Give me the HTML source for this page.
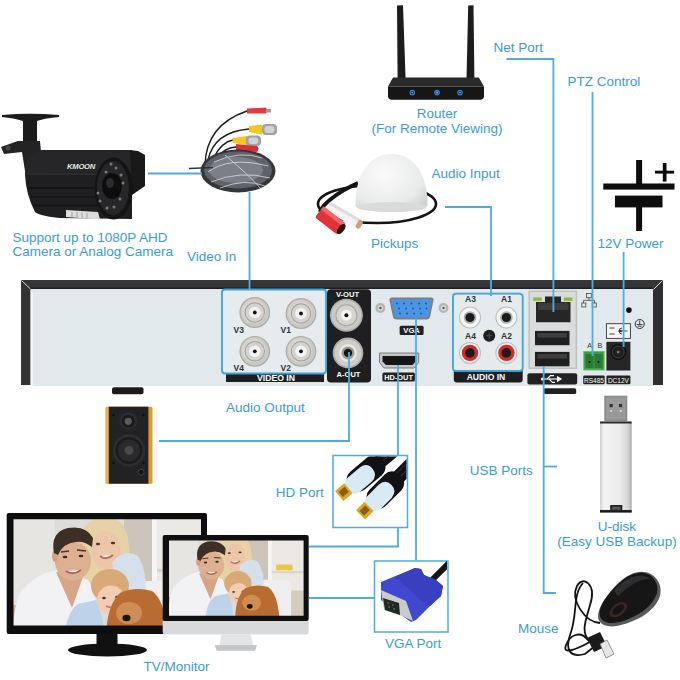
<!DOCTYPE html>
<html><head><meta charset="utf-8">
<style>
html,body{margin:0;padding:0;background:#fff;width:680px;height:680px;overflow:hidden}
svg{display:block}
.t{font-family:"Liberation Sans",sans-serif;fill:#3a9dd2;font-size:13.5px}
.ln{stroke:#4eaddc;stroke-width:1.8;fill:none}
.lb{font-family:"Liberation Sans",sans-serif;fill:#fff;font-weight:bold;font-size:7px}
.sl{font-family:"Liberation Sans",sans-serif;fill:#222;font-size:8px}
</style></head>
<body>
<svg width="680" height="680" viewBox="0 0 680 680">
<defs>

  <filter id="soft" x="-5%" y="-5%" width="110%" height="110%"><feGaussianBlur stdDeviation="0.7"/></filter>
  <clipPath id="clipBig"><rect x="13.5" y="519.2" width="187.5" height="106.4"/></clipPath>
  <clipPath id="clipSmall"><rect x="169" y="540.5" width="134.6" height="75.3"/></clipPath>
  <g id="photo">
    <rect x="0" y="505" width="225" height="140" fill="#dedcd8"/>
    <rect x="0" y="505" width="55" height="140" fill="#e6e5e2"/>
    <rect x="124" y="505" width="28" height="80" fill="#cbc5bc"/>
    <rect x="152" y="505" width="73" height="95" fill="#ece9e5"/>
    <rect x="152" y="505" width="5" height="95" fill="#f7f6f4"/>
    <rect x="157" y="569" width="68" height="3" fill="#d8d3cc"/>
    <rect x="163" y="560" width="23" height="8" rx="2" fill="#e8c840"/>
    <rect x="181" y="596" width="44" height="50" fill="#d6ccbc"/>
    <path d="M136 640 V592 Q136 581 147 581 H175 Q184 581 184 592 V640 Z" fill="#efefef"/>
    <path d="M0 605 H22 V640 H0 Z" fill="#d4b898"/>
    <path d="M80 605 Q74 560 80 535 Q88 517 106 517 Q124 518 128 538 Q132 562 124 586 L96 592 Z" fill="#e6d2a4"/>
    <ellipse cx="106" cy="550" rx="14.5" ry="19" fill="#edc6aa"/>
    <path d="M112 562 Q126 548 138 556 Q148 572 145 598 L118 600 Z" fill="#d5e0ec"/>
    <path d="M12 640 Q14 600 22 590 Q36 574 56 570 L66 572 L88 580 Q98 595 102 640 Z" fill="#f2f2f4"/>
    <path d="M56 572 L84 574 L72 608 Z" fill="#d8a488"/>
    <ellipse cx="73" cy="561" rx="18" ry="19.5" fill="#deb092"/>
    <ellipse cx="55" cy="556" rx="3" ry="6" fill="#d4a080"/>
    <path d="M54 553 Q50 532 68 528 Q86 525 93 538 L92 547 Q84 541 76 542 Q63 543 58 555 Z" fill="#3d2e26"/>
    <g fill="#3a2a22">
      <ellipse cx="65" cy="557" rx="2.4" ry="1.3"/><ellipse cx="81" cy="556" rx="2.4" ry="1.3"/>
    </g>
    <path d="M61 552 L69 551 M77 550 L86 551" stroke="#4a3428" stroke-width="1.4"/>
    <path d="M66 571 Q73 576 81 570" stroke="#a8644e" stroke-width="2" fill="#fff"/>
    <path d="M64 640 Q66 612 78 604 L96 600 Q104 615 104 640 Z" fill="#bcd3ea"/>
    <ellipse cx="110" cy="586" rx="19" ry="17" fill="#d8aa78"/>
    <ellipse cx="111" cy="600" rx="14" ry="14.5" fill="#f2cdb2"/>
    <g fill="#4a3428">
      <ellipse cx="98" cy="544" rx="2.2" ry="1.2"/><ellipse cx="113" cy="543" rx="2.2" ry="1.2"/>
      <ellipse cx="104" cy="598" rx="1.8" ry="1.2"/><ellipse cx="117" cy="597" rx="1.8" ry="1.2"/>
    </g>
    <path d="M100 556 Q106 561 113 555" stroke="#b86a5a" stroke-width="2" fill="#fff"/>
    <path d="M106 606 Q111 609 116 605" stroke="#c07a6a" stroke-width="1.5" fill="none"/>
    <path d="M106 640 Q106 606 120 593 Q135 586 152 591 Q166 601 168 640 Z" fill="#b96c30"/>
    <ellipse cx="129" cy="613" rx="13" ry="11" fill="#cf8d54"/>
    <ellipse cx="126.5" cy="618" rx="4" ry="3.2" fill="#1e130e"/>
  </g>
  <g id="bnc">
    <circle cx="0" cy="0" r="15.4" fill="#aeaca8"/>
    <circle cx="0" cy="0" r="14.2" fill="#cac8c4"/>
    <circle cx="-1" cy="-1" r="12" fill="#d6d4d0"/>
    <circle cx="0" cy="0" r="10.2" fill="#a3a19d"/>
    <circle cx="0" cy="0" r="9.2" fill="#d3d2cf"/>
    <circle cx="0" cy="0" r="5.8" fill="#f2f2f2"/>
    <circle cx="0" cy="0" r="1.9" fill="#111"/>
  </g>
  <g id="rcaw">
    <circle cx="0" cy="0" r="11" fill="#bdbdbd"/>
    <circle cx="0" cy="0" r="10" fill="#f6f6f6"/>
    <circle cx="0" cy="0" r="6.3" fill="#b0aeac"/>
    <circle cx="0" cy="0" r="4.6" fill="#1c1c1c"/>
  </g>
  <g id="rcar">
    <circle cx="0" cy="0" r="11" fill="#bdbdbd"/>
    <circle cx="0" cy="0" r="10" fill="#f2f2f2"/>
    <circle cx="0" cy="0" r="8.2" fill="#d42a2e"/>
    <circle cx="0" cy="0" r="4.8" fill="#1c1c1c"/>
  </g>
</defs>
<rect width="680" height="680" fill="#fff"/>


<!-- ===== DVR ===== -->
<g id="dvr">
  <path d="M21 280 H663 V385 H653 L653 290 L30 290 V385 H21 Z" fill="#333335"/>
  <rect x="30.5" y="289" width="623" height="97" fill="#e2e9ec"/>
  <path d="M21 280 L30.5 289 V385 H21 Z" fill="#333"/>
  <path d="M663 280 L653 289 V385 H663 Z" fill="#2f2f31"/>
  <path d="M21 280 H663 L653 289 H30.5 Z" fill="#363638"/><path d="M30.5 287.5 H653 V289 H30.5 Z" fill="#1e1e1f"/>
  <path d="M30.5 289 L33 294 V385 H30.5 Z" fill="#fff" opacity=".6"/>
  <path d="M21.5 280.5 L30.5 289" stroke="#ddd" stroke-width="1"/>
  <path d="M662.5 280.5 L653.5 289.5" stroke="#ddd" stroke-width="1"/>

  <!-- video in -->
  <rect x="226" y="372" width="98" height="10" fill="#1e1e20"/>
  <text x="276" y="380.8" text-anchor="middle" class="lb" style="font-size:8.7px">VIDEO IN</text>
  <rect x="222" y="289.5" width="104" height="84" rx="3" fill="#e6ebee" stroke="#3aa3da" stroke-width="1.8"/>
  <use href="#bnc" x="254.8" y="312.5"/>
  <use href="#bnc" x="301" y="313.5"/>
  <use href="#bnc" x="254.8" y="351.3"/>
  <use href="#bnc" x="301" y="351.3"/>
  <g class="sl">
    <text x="233.5" y="332.7" style="font-weight:bold;font-size:8.5px;fill:#333">V3</text><text x="280.5" y="332.7" style="font-weight:bold;font-size:8.5px;fill:#333">V1</text>
    <text x="233.5" y="370.8" style="font-weight:bold;font-size:8.5px;fill:#333">V4</text><text x="280.5" y="370.8" style="font-weight:bold;font-size:8.5px;fill:#333">V2</text>
  </g>
  <!-- erase the original bnc at 0,0 -->

  <!-- V-OUT / A-OUT -->
  <rect x="327" y="289.2" width="44" height="93.3" rx="4" fill="#1f1f21"/>
  <text x="347.5" y="296.8" text-anchor="middle" class="lb" style="font-size:7.6px">V-OUT</text>
  <text x="348.5" y="377" text-anchor="middle" class="lb" style="font-size:7.6px">A-OUT</text>
  <circle cx="346.4" cy="315.2" r="16.5" fill="#aeaca8"/>
  <circle cx="346.4" cy="315.2" r="15" fill="#cac8c4"/>
  <circle cx="346.4" cy="315.2" r="11" fill="#a9a7a3"/>
  <circle cx="346.4" cy="315.2" r="10" fill="#d6d4d0"/>
  <circle cx="346.4" cy="315.2" r="5.5" fill="#f2f2f2"/>
  <circle cx="346.4" cy="315.2" r="2" fill="#111"/>
  <circle cx="348" cy="352.9" r="15.3" fill="#b0aeaa"/>
  <circle cx="348" cy="352.9" r="13.5" fill="#cfcdc9"/>
  <circle cx="348" cy="352.9" r="9" fill="#e8e7e4"/>
  <circle cx="348" cy="352.9" r="6.5" fill="#9b9995"/>
  <circle cx="348" cy="352.9" r="4.2" fill="#161616"/>

  <!-- VGA -->
  <circle cx="380.4" cy="308" r="5" fill="#b5b5b3"/><circle cx="380.4" cy="308" r="2.6" fill="#e0e0de"/><circle cx="380.4" cy="308" r="1.2" fill="#555"/>
  <circle cx="443.5" cy="308" r="5" fill="#b5b5b3"/><circle cx="443.5" cy="308" r="2.6" fill="#e0e0de"/><circle cx="443.5" cy="308" r="1.2" fill="#555"/>
  <path d="M392 297.4 H431 Q434 297.4 433.5 300.5 L430 317 Q429.5 319.4 427 319.4 H396 Q393.5 319.4 393 317 L389.5 300.5 Q389 297.4 392 297.4 Z" fill="#7d7f80"/>
  <path d="M393.5 299.3 H429.5 Q432 299.3 431.5 301.5 L428.3 315.8 Q428 317.6 426 317.6 H397 Q395 317.6 394.7 315.8 L391.5 301.5 Q391 299.3 393.5 299.3 Z" fill="#4a96e4"/>
  <g fill="#1f4f90">
    <circle cx="397" cy="303.5" r="0.9"/><circle cx="404" cy="303.5" r="0.9"/><circle cx="411.5" cy="303.5" r="0.9"/><circle cx="419" cy="303.5" r="0.9"/><circle cx="426" cy="303.5" r="0.9"/>
    <circle cx="399" cy="308.5" r="0.9"/><circle cx="406" cy="308.5" r="0.9"/><circle cx="413" cy="308.5" r="0.9"/><circle cx="420" cy="308.5" r="0.9"/><circle cx="426.5" cy="308.5" r="0.9"/>
    <circle cx="400" cy="313.5" r="0.9"/><circle cx="407" cy="313.5" r="0.9"/><circle cx="414" cy="313.5" r="0.9"/><circle cx="421" cy="313.5" r="0.9"/>
  </g>
  <rect x="399.6" y="325.7" width="24" height="9.3" rx="1.5" fill="#222"/>
  <text x="411.6" y="333.3" text-anchor="middle" class="lb" style="font-size:7.6px">VGA</text>

  <!-- HDMI -->
  <path d="M379.5 353 H418.7 V362.5 L414 368 H384 L379.5 362.5 Z" fill="#c5c7c9" stroke="#666" stroke-width=".8"/>
  <path d="M382.5 356 H415.5 V361.5 L412.5 365 H386 L382.5 361.5 Z" fill="#161616"/>
  <rect x="382.4" y="372.6" width="32.5" height="9" rx="1.5" fill="#222"/>
  <text x="398.6" y="380.2" text-anchor="middle" class="lb" style="font-size:7.4px">HD-OUT</text>

  <!-- AUDIO IN -->
  <path d="M453.8 370 H522.7 V379.5 Q522.7 382.5 519.7 382.5 H456.8 Q453.8 382.5 453.8 379.5 Z" fill="#1e1e20"/>
  <text x="486" y="380.3" text-anchor="middle" class="lb" style="font-size:8.6px">AUDIO IN</text>
  <rect x="453" y="293.6" width="69.7" height="77.4" rx="3" fill="#e5eaed" stroke="#3aa3da" stroke-width="1.8"/>
  <use href="#rcaw" x="470" y="317.5"/>
  <use href="#rcaw" x="506.4" y="317.5"/>
  <use href="#rcar" x="470" y="352.9"/>
  <use href="#rcar" x="506.4" y="352.9"/>
  <circle cx="489.2" cy="335.7" r="6" fill="#1e1e1e"/>
  <path d="M486 335.7 H492.4 M489.2 332.5 V338.9" stroke="#555" stroke-width=".8"/>
  <g class="sl" style="font-weight:bold;font-size:8.5px;fill:#333">
    <text x="465" y="302.2">A3</text><text x="501" y="302.2">A1</text>
    <text x="465" y="339.1">A4</text><text x="501" y="339.1">A2</text>
  </g>

  <!-- RJ45 + USB -->
  <rect x="528.4" y="290.4" width="48.8" height="78.7" fill="#bfc1c3"/>
  <rect x="530" y="292" width="45.6" height="75.5" fill="#d9dbdc"/>
  <rect x="533.2" y="297.4" width="8.6" height="3.5" fill="#8fb844"/>
  <rect x="563.8" y="297.4" width="8.6" height="3.5" fill="#8fb844"/>
  <path d="M545 296.5 H561 V302 H570.5 V322.3 H536 V302 H545 Z" fill="#262626"/>
  <rect x="538" y="303" width="30.5" height="7" fill="#3c3c3c"/>
  <rect x="535" y="330.9" width="34.5" height="14.3" fill="#1f1f1f"/>
  <rect x="537.5" y="333" width="29.5" height="4.5" fill="#3e3e3e"/>
  <rect x="535" y="351.9" width="34.5" height="14.4" fill="#1f1f1f"/>
  <rect x="537.5" y="354" width="29.5" height="4.5" fill="#3e3e3e"/>
  <rect x="527.4" y="373.3" width="49.8" height="11.1" rx="2" fill="#222"/>
  <g stroke="#fff" stroke-width="1.1" fill="none">
    <path d="M542 379 H561"/>
    <path d="M561 379 L557.5 376.8 V381.2 Z" fill="#fff"/>
    <path d="M547 379 L550.5 375.6 H554"/>
    <path d="M549 379 L552.5 382.4 H555"/>
  </g>
  <circle cx="542.5" cy="379" r="1.6" fill="#fff"/>
  <rect x="543.7" y="388.2" width="32.5" height="5.8" rx="1.5" fill="#222"/>

  <!-- network icon -->
  <g stroke="#555" stroke-width=".9" fill="none">
    <rect x="586.5" y="293.5" width="5" height="4.2"/>
    <path d="M589 297.7 V300.3 M583.5 300.3 H594.5 M583.5 300.3 V303 M594.5 300.3 V303"/>
    <rect x="581.8" y="303" width="4" height="4"/><rect x="592.3" y="303" width="4" height="4"/>
  </g>
  <circle cx="628.9" cy="310.1" r="2.8" fill="#111"/>
  <circle cx="639.7" cy="324" r="4.5" fill="none" stroke="#333" stroke-width="1"/>
  <path d="M639.7 320.5 V324.5 M636.8 324.5 H642.6 M637.8 326.2 H641.6" stroke="#333" stroke-width=".9"/>
  <rect x="606.4" y="323.7" width="24" height="14.7" fill="#f4f5f6" stroke="#333" stroke-width=".9"/>
  <path d="M609.5 328 H614.5 M609.5 334 H614.5 M618.5 331 H627.5 M622 328 A3 3 0 0 0 622 334" stroke="#333" stroke-width=".9" fill="none"/>
  <circle cx="620.5" cy="331" r="1.3" fill="#333"/>

  <!-- RS485 -->
  <text x="587.3" y="347.7" class="sl" style="font-size:7.2px;fill:#333">A</text>
  <text x="597.5" y="347.7" class="sl" style="font-size:7.2px;fill:#333">B</text>
  <rect x="583.2" y="351" width="21.5" height="19.5" fill="#6dbb6a"/>
  <rect x="584.2" y="352" width="19.5" height="17.5" fill="#3d9c45"/>
  <rect x="585.5" y="354" width="8" height="14" fill="#2b7a33"/>
  <rect x="594.5" y="354" width="8" height="14" fill="#2b7a33"/>
  <circle cx="589.5" cy="362" r="1" fill="#111"/><circle cx="598.5" cy="362" r="1" fill="#111"/>
  <rect x="583.2" y="375.6" width="21.5" height="8.6" rx="1.2" fill="#222"/>
  <text x="594" y="382.6" text-anchor="middle" class="lb" style="font-size:6.5px;font-weight:normal">RS485</text>
  <!-- DC -->
  <rect x="606.4" y="341.8" width="24" height="28.7" fill="#262626"/>
  <circle cx="618.2" cy="352" r="8" fill="#111"/>
  <circle cx="618.2" cy="352" r="6" fill="#1e1e1e" stroke="#555" stroke-width=".7"/>
  <circle cx="618.2" cy="352" r="1.5" fill="#777"/>
  <rect x="606.4" y="375.6" width="24" height="8.6" rx="1.2" fill="#222"/>
  <text x="618.4" y="382.6" text-anchor="middle" class="lb" style="font-size:6.5px;font-weight:normal">DC12V</text>
</g>


<!-- ===== Router ===== -->
<g id="router">
  <path d="M397 5.5 L403 5.3 L405.6 79 L397.6 79 Z" fill="#1c1c1c"/>
  <path d="M468.2 5.5 L473.5 5.3 L474.4 79 L466.5 79 Z" fill="#1c1c1c"/>
  <path d="M393 77.6 H478.8 L484 86.5 H388 Z" fill="#2a2a2c"/>
  <path d="M388 86.5 H484 V96 Q484 99.7 480 99.7 H392 Q388 99.7 388 96 Z" fill="#161617"/>
  <g fill="none" stroke="#2f7fe0" stroke-width="1.3">
    <circle cx="412.3" cy="92.6" r="2.2"/><circle cx="437" cy="92.6" r="2.2"/><circle cx="460" cy="92.6" r="2.2"/>
  </g>
  <g fill="#6ab0ff" opacity=".8">
    <circle cx="412.3" cy="92.6" r="1"/><circle cx="437" cy="92.6" r="1.3"/><circle cx="460" cy="92.6" r="1"/>
  </g>
</g>

<!-- ===== 12V symbol ===== -->
<g fill="#0d0d0d">
  <rect x="636.1" y="160" width="6" height="25"/>
  <rect x="603.3" y="183.5" width="71.2" height="6.1"/>
  <rect x="615" y="195.6" width="47.5" height="11.8"/>
  <rect x="636.1" y="207" width="6" height="24"/>
  <rect x="655" y="170.7" width="19.1" height="2.9"/>
  <rect x="662.8" y="163" width="3.7" height="18.6"/>
</g>

<!-- ===== Camera ===== -->
<g id="camera">
  <path d="M2 115 Q30 112.5 59 115 L59 117 Q45 118 37 121 H23 Q14 118 2 117 Z" fill="#1c1c1c"/>
  <rect x="23" y="119" width="14" height="24" fill="#1b1b1b"/>
  <path d="M18 141 H40 L41 152 L30 172 L25 171 L22 152 L4 154 L1 147 L15 142 Z" fill="#232323"/>
  <circle cx="8" cy="148" r="2.5" fill="#444"/>
  <path d="M40 150 L132 150 L132 219 L60 218 Q40 216 35 212 Q26 195 25 175 Q25 160 28 156 Z" fill="#1f1f21"/>
  <path d="M40 150 L132 150 L132 172 L26 173 Q25 160 28 156 Z" fill="#262628"/>
  <path d="M27 174 H120" stroke="#3a3a3c" stroke-width="1.2"/>
  <path d="M28 188 H100 M30 197 H100 M33 205.5 H100" stroke="#121213" stroke-width="1.3"/>
  <path d="M130 150 L138 151 L145 155 V186 L132 195 Z" fill="#19191a"/>
  <ellipse cx="113.6" cy="188.5" rx="19" ry="31" fill="#141415"/>
  <ellipse cx="113" cy="188" rx="16" ry="27" fill="#262628"/>
  <ellipse cx="112" cy="186" rx="10" ry="13" fill="#0d0d0e"/>
  <ellipse cx="110" cy="183" rx="4" ry="5" fill="#2c2c2e"/>
  <g fill="#7a7a7a">
    <circle cx="111" cy="164" r="1.5"/><circle cx="116" cy="168" r="1.5"/><circle cx="121" cy="175" r="1.5"/><circle cx="123" cy="183" r="1.5"/><circle cx="120" cy="199" r="1.5"/><circle cx="114" cy="207" r="1.5"/><circle cx="107" cy="208" r="1.5"/><circle cx="100" cy="201" r="1.5"/><circle cx="98" cy="193" r="1.5"/><circle cx="106" cy="172" r="1.5"/>
  </g>
  <path d="M66 210 L98 212 L100 219.5 L66 217 Z" fill="#dcdcdc"/>
  <path d="M72 212 V217 M77 212.3 V217.5 M82 212.6 V218 M87 213 V218.5" stroke="#777" stroke-width=".6"/>
  <text x="67" y="168.5" style="font-family:'Liberation Sans',sans-serif;font-size:7.6px;font-style:italic;font-weight:bold;letter-spacing:-.2px" fill="#e8e8e8">KMOON</text>
</g>

<!-- ===== Cable coil ===== -->
<g id="cable">
  <path d="M205 165 Q206 125 247 111" stroke="#1a1a1a" stroke-width="1.4" fill="none"/>
  <path d="M208 160 Q214 132 249 129" stroke="#1a1a1a" stroke-width="1.4" fill="none"/>
  <path d="M214 157 Q222 142 233 140" stroke="#1a1a1a" stroke-width="1.4" fill="none"/>
  <path d="M216 158 Q226 147 236 147" stroke="#1a1a1a" stroke-width="1.4" fill="none"/>
  <path d="M247 108.5 L266 107.5 Q268 110.5 266 113.5 L247 113.5 Z" fill="#e23a3f"/>
  <rect x="266" y="109" width="5" height="3.5" fill="#9a9a9a"/>
  <path d="M249 126 L262 124.4 V134.7 L249 132 Z" fill="#f0c820"/>
  <rect x="262" y="124" width="15" height="11" rx="4" fill="#9ea2a5"/>
  <rect x="264.5" y="126" width="10" height="7" rx="3" fill="#d0d3d5"/>
  <path d="M232.6 138 L247 136 V145 L232.6 143 Z" fill="#f0c820"/>
  <rect x="246" y="135.5" width="15" height="10.5" rx="4" fill="#9ea2a5"/>
  <rect x="248.5" y="137.5" width="10" height="6.5" rx="3" fill="#d0d3d5"/>
  <path d="M236 144 L257 146 Q260 148.5 257 152 L236 150 Z" fill="#d92f36"/>
  <ellipse cx="238" cy="171" rx="37.5" ry="21.5" fill="#34363a"/>
  <ellipse cx="238" cy="170" rx="34" ry="18.5" fill="#5f6268"/>
  <ellipse cx="236" cy="170" rx="27" ry="13" fill="#7c7f85"/>
  <g stroke="#e2e4e6" stroke-width="1" fill="none" opacity=".75">
    <path d="M208 172 Q230 156 268 166"/>
    <path d="M211 182 Q240 170 270 178"/>
    <path d="M214 162 Q240 150 262 158"/>
    <path d="M220 188 Q245 178 265 186"/>
    <path d="M225 155 Q250 176 262 190"/>
  </g>
  <path d="M189 168.5 L213 167.5" stroke="#333" stroke-width="1.5"/>
</g>

<!-- ===== Microphone ===== -->
<defs><radialGradient id="domeg" cx="0.4" cy="0.35" r="0.75"><stop offset="0" stop-color="#fbfbfb"/><stop offset=".7" stop-color="#e9eaea"/><stop offset="1" stop-color="#cfd0d0"/></radialGradient></defs>
<g id="mic">
  <ellipse cx="377" cy="204" rx="59" ry="19" fill="none" stroke="#141414" stroke-width="2.6"/>
  <path d="M358 183 Q342 190 331 199 Q322 206 320 212" stroke="#141414" stroke-width="4" fill="none"/>
  <path d="M355.5 206 C355 176, 368 154, 391.5 154 C415 154, 428 176, 427.5 206 C418 214, 365 214, 355.5 206 Z" fill="url(#domeg)"/>
  <ellipse cx="391.5" cy="207" rx="35" ry="5" fill="#d9dada"/>
  <g transform="translate(345 216) rotate(30)">
    <rect x="-20" y="-5" width="36" height="10" rx="2" fill="#f2f2f4"/>
    <rect x="-20" y="-5" width="36" height="3" fill="#dcdce0"/>
    <rect x="14" y="-4.5" width="5" height="9" rx="2" fill="#c8a27a"/>
  </g>
  <g transform="translate(331 221) rotate(38)">
    <rect x="-15" y="-7" width="28" height="14" rx="2" fill="#e1343a"/>
    <rect x="-15" y="-7" width="28" height="4" fill="#f0686c"/>
    <ellipse cx="13" cy="0" rx="3" ry="6" fill="#2a1515"/>
  </g>
</g>

<!-- ===== Speaker ===== -->
<g id="speaker">
  <rect x="112" y="387.3" width="31.5" height="7" rx="2" fill="#1c1c1c"/>
  <rect x="105.5" y="406.7" width="47" height="77" rx="1.5" fill="#e09a26"/>
  <rect x="106.5" y="407" width="2" height="76" fill="#f0b850"/>
  <rect x="108.8" y="406.7" width="39.6" height="77" fill="#222224"/>
  <circle cx="128.2" cy="421.3" r="8.9" fill="#2c2c2e"/>
  <circle cx="128.2" cy="421.3" r="6.5" fill="#1a1a1b"/>
  <circle cx="128.2" cy="421.3" r="3.6" fill="#5a5a5c"/>
  <circle cx="129" cy="450.4" r="16.2" fill="#2e2e30"/>
  <circle cx="129" cy="450.4" r="13.5" fill="#1b1b1c"/>
  <circle cx="129" cy="450.4" r="11" fill="#2a2a2c"/>
  <circle cx="129" cy="450.4" r="4.5" fill="#4a4a4c"/>
  <g fill="#0d0d0d"><circle cx="113.5" cy="415" r="1.2"/><circle cx="143.5" cy="415" r="1.2"/><circle cx="113.5" cy="463" r="1.2"/><circle cx="143.5" cy="463" r="1.2"/></g>
  <circle cx="141" cy="472.2" r="3" fill="#111" stroke="#555" stroke-width=".7"/>
</g>

<!-- ===== HDMI box ===== -->
<g id="hdbox">
  <rect x="333" y="455.5" width="74.5" height="72" fill="#fff" stroke="#4eaddc" stroke-width="1.5"/>
  <clipPath id="clipHd"><rect x="334" y="456.5" width="72.5" height="70"/></clipPath>
  <g clip-path="url(#clipHd)">
  <g transform="translate(363 476) rotate(-40)">
    <rect x="16" y="-7" width="70" height="14" fill="#121214"/>
    <path d="M22 -4 L86 -4 M22 1 L86 1" stroke="#27324a" stroke-width="1"/>
    <rect x="-17" y="-11.5" width="42" height="23" rx="10" fill="#121214"/>
    <path d="M-20 -1 Q-20 -8 -13 -8.5 L3 -8.5 Q12 -8 12 0.5 Q12 9 3 10 L-13 10 Q-20 9.5 -20 2 Z" fill="#d8ebf5"/>
    <rect x="-31" y="-6.5" width="12" height="13" fill="#dca62e"/>
    <rect x="-29" y="-3.5" width="8" height="6.5" fill="#8a5f14"/>
  </g>
  <g transform="translate(382.5 493) rotate(-45)">
    <rect x="16" y="-7" width="70" height="14" fill="#121214"/>
    <path d="M22 -4 L86 -4 M22 1 L86 1" stroke="#27324a" stroke-width="1"/>
    <rect x="-17" y="-11.5" width="42" height="23" rx="10" fill="#121214"/>
    <path d="M-20 -1 Q-20 -8 -13 -8.5 L3 -8.5 Q12 -8 12 0.5 Q12 9 3 10 L-13 10 Q-20 9.5 -20 2 Z" fill="#d8ebf5"/>
    <rect x="-31" y="-6.5" width="12" height="13" fill="#dca62e"/>
    <rect x="-29" y="-3.5" width="8" height="6.5" fill="#8a5f14"/>
  </g>
  </g>
</g>

<!-- ===== VGA box ===== -->
<g id="vgabox">
  <rect x="374.5" y="561" width="73.5" height="71" fill="#fff" stroke="#4eaddc" stroke-width="1.5"/>
  <clipPath id="clipVga"><rect x="375.5" y="561" width="71.5" height="70"/></clipPath>
  <g clip-path="url(#clipVga)">
  <path d="M452 560 L432 580" stroke="#151515" stroke-width="6" fill="none"/>
  <path d="M381 582 L415 568 L421 569 L424 575 L436 580 L443 586 L441 596 L430 606 L416 620 L411 622 L404 617 L381 600 Z" fill="#4048d0"/>
  <path d="M395 577 L415 568 L421 569 L424 575 L436 580 L443 586 L441 596 L430 606 L420 600 L410 590 Z" fill="#3840c0"/>
  <path d="M381 590 L406 601 L413 621 L402 616 L384 610 Z" fill="#c9cbcd"/>
  <path d="M383 598 L399 603 L400 615 L385 610 Z" fill="#1f2a22"/>
  <g fill="#7a8a5a"><circle cx="388" cy="603" r=".8"/><circle cx="393" cy="605" r=".8"/><circle cx="389" cy="607" r=".8"/><circle cx="394" cy="609" r=".8"/></g>
  </g>
</g>

<!-- ===== Monitors ===== -->
<g id="bigmon">
  <rect x="6.7" y="513" width="200.3" height="121" rx="2" fill="#0d0d0d"/>
  <g clip-path="url(#clipBig)"><use href="#photo" filter="url(#soft)"/></g>
  <rect x="96.5" y="634" width="21" height="12" fill="#111"/>
  <ellipse cx="107.5" cy="650" rx="39.5" ry="6.5" fill="#111"/>
</g>
<g id="smallmon">
  <rect x="162.7" y="535" width="146" height="86" rx="2" fill="#0f0f0f"/>
  <g clip-path="url(#clipSmall)"><g transform="translate(158.7 161.4) scale(0.72)"><use href="#photo" filter="url(#soft)"/></g></g>
  <path d="M162.7 621 H308.6 V632 Q308.6 634.5 306 634.5 H165 Q162.7 634.5 162.7 632 Z" fill="#d7d9db"/>
  <path d="M221.5 634.5 H251 L253 645 H219.5 Z" fill="#e2e4e6"/>
  <path d="M214.7 645 H257 L255 650.8 H216.7 Z" fill="#c4c6c8"/>
</g>

<!-- ===== USB stick ===== -->
<defs><linearGradient id="usbg" x1="0" x2="1" y1="0" y2="0"><stop offset="0" stop-color="#cfcfd0"/><stop offset=".12" stop-color="#f3f3f3"/><stop offset=".6" stop-color="#ececec"/><stop offset=".88" stop-color="#d6d6d7"/><stop offset="1" stop-color="#a9a9aa"/></linearGradient></defs>
<g id="usb">
  <rect x="604.3" y="395.7" width="23" height="26" fill="#8c8c8d"/>
  <rect x="606" y="397.5" width="19.5" height="22" fill="#9a9a9b"/>
  <rect x="609.5" y="404" width="3.2" height="3.2" fill="#333"/><rect x="619" y="404" width="3.2" height="3.2" fill="#333"/>
  <rect x="610.3" y="410" width="1.8" height="1.8" fill="#ddd"/><rect x="619.8" y="410" width="1.8" height="1.8" fill="#ddd"/>
  <rect x="600" y="421.5" width="31.7" height="91" rx="1.5" fill="url(#usbg)"/>
  <rect x="600" y="421.5" width="31.7" height="2" fill="#2a2a2a"/>
  <rect x="600" y="510" width="31.7" height="2.6" fill="#1e1e1e"/>
  <path d="M611 510 V505.7 H621.5 V510" stroke="#1e1e1e" stroke-width="1.6" fill="#555"/>
</g>

<!-- ===== Mouse ===== -->
<g id="mouse">
  <g stroke="#111" stroke-width="1.8" fill="none">
    <path d="M600 623 C585 622, 570 600, 577 586 C583 575, 597 584, 590 605 C586 620, 580 632, 590 642"/>
    <path d="M583 583 C572 595, 578 615, 570 635 C565 650, 570 658, 585 654 L595 646"/>
    <path d="M590 642 C575 650, 562 655, 566 645 C570 635, 580 630, 588 640"/>
  </g>
  <path d="M587 638 L600 632 L607 646 L594 652 Z" fill="#1a1a1a"/>
  <path d="M600 644 L607 640 L614 654 L606 658 Z" fill="#e6e6e6" stroke="#666" stroke-width=".7"/>
  <g transform="translate(628 601) rotate(-37)">
    <path d="M-35 0 C-35 -10, -18 -17, 2 -20 C24 -23, 36 -13, 36 0 C36 13, 24 23, 2 21 C-18 18, -35 10, -35 0 Z" fill="#58595c"/>
    <path d="M-32 -2 C-32 -11, -17 -17, 2 -19.5 C23 -22, 34 -13, 34 -2 C34 10, 23 18, 2 17 C-17 15, -32 8, -32 -2 Z" fill="#161617"/>
    <path d="M-5 -17 C15 -21, 30 -14, 31 -4 C25 -10, 10 -12, -5 -10 Z" fill="#2e2e30"/>
    <ellipse cx="-13" cy="1" rx="10" ry="6" fill="#3c2624"/>
    <ellipse cx="-13" cy="1" rx="7" ry="3.5" fill="#141414"/>
  </g>
</g>

<!-- ===== connector lines ===== -->
<g class="ln">
  <path d="M148 173.5 H202"/>
  <path d="M249.5 192 V290"/>
  <path d="M506.5 59 H553.4 V312"/>
  <path d="M592.5 92 V356"/>
  <path d="M623.6 252 V347"/>
  <path d="M445 207 H491 V296"/>
  <path d="M159 441 H349 V352"/>
  <path d="M398 365 V455"/>
  <path d="M398 527 V546.5 H309"/>
  <path d="M416 318 V560"/>
  <path d="M374.5 598 H309"/>
  <path d="M543.7 366 V593 H556"/>
  <path d="M543.7 466.5 H557"/>
</g>

<!-- ===== labels ===== -->
<g class="t">
  <text x="493.5" y="52">Net Port</text>
  <text x="567.5" y="86">PTZ Control</text>
  <text x="437" y="118" text-anchor="middle">Router</text>
  <text x="437" y="133" text-anchor="middle">(For Remote Viewing)</text>
  <text x="431.5" y="178">Audio Input</text>
  <text x="371" y="248">Pickups</text>
  <text x="597.5" y="248">12V Power</text>
  <text x="12.5" y="242">Support up to 1080P AHD</text>
  <text x="12.5" y="256">Camera or Analog Camera</text>
  <text x="187" y="261">Video In</text>
  <text x="226" y="412">Audio Output</text>
  <text x="275.7" y="497">HD Port</text>
  <text x="469.7" y="475">USB Ports</text>
  <text x="617" y="531" text-anchor="middle">U-disk</text>
  <text x="617" y="546" text-anchor="middle">(Easy USB Backup)</text>
  <text x="143.5" y="671">TV/Monitor</text>
  <text x="385" y="648">VGA Port</text>
  <text x="518" y="633">Mouse</text>
</g>

</svg>
</body></html>
